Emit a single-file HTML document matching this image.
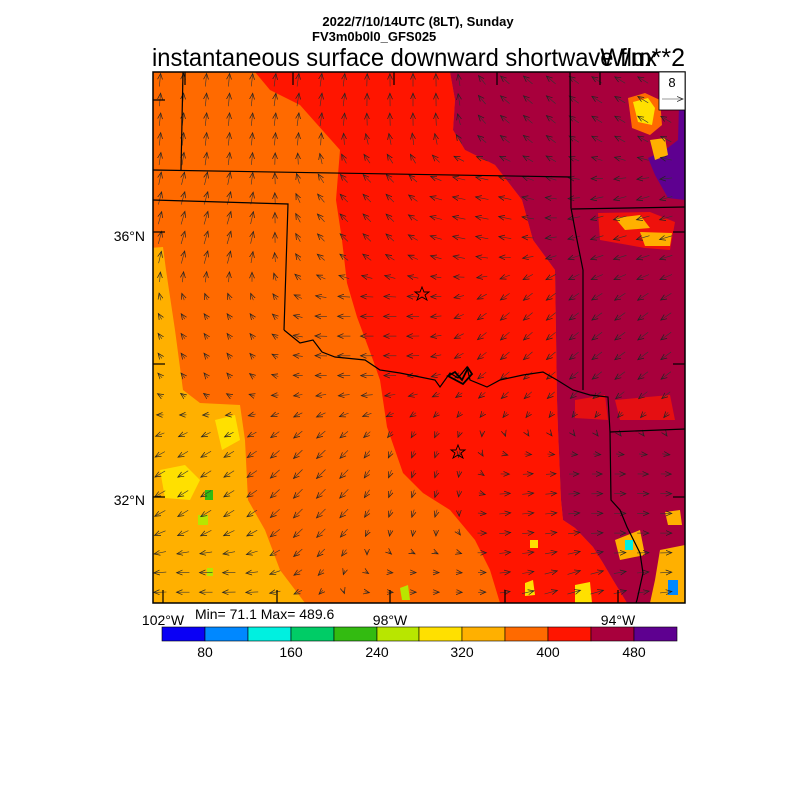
<!DOCTYPE html>
<html><head><meta charset="utf-8"><style>
html,body{margin:0;padding:0;background:#fff;}
body{width:800px;height:800px;overflow:hidden;font-family:"Liberation Sans",sans-serif;}
</style></head><body>
<svg id="s" width="800" height="800" xmlns="http://www.w3.org/2000/svg" font-family="Liberation Sans, sans-serif">
<rect width="800" height="800" fill="#fff"/>
<defs><clipPath id="c"><rect x="153" y="72" width="532" height="531"/></clipPath>
<marker id="ah" markerWidth="7" markerHeight="7" refX="6" refY="3.5" orient="auto" markerUnits="userSpaceOnUse"><path d="M0,1 L6,3.5 L0,6" fill="none" stroke="#222" stroke-width="0.7"/></marker></defs>
<g clip-path="url(#c)">
<rect x="153" y="72" width="532" height="531" fill="#ff6a00"/>
<path d="M150,248 L163,247 L166,270 L175,330 L183,390 L200,403 L240,405 L245,440 L248,500 L265,530 L280,570 L305,603 L150,603 Z" fill="#ffb000"/>
<path d="M160,470 L185,465 L200,480 L190,500 L165,498 Z" fill="#ffe000"/>
<path d="M215,420 L235,415 L240,440 L222,450 Z" fill="#ffe000"/>
<rect x="205" y="490" width="8" height="10" fill="#33bb11"/>
<rect x="198" y="515" width="10" height="10" fill="#b8e600"/>
<rect x="207" y="568" width="6" height="8" fill="#b8e600"/>
<path d="M255,72 L450,72 L455,100 L453,130 L465,150 L495,165 L522,200 L533,240 L555,270 L557,400 L558,430 L561,500 L563,520 L575,528 L593,547 L603,563 L613,580 L627,603 L500,603 L490,570 L475,540 L450,510 L423,493 L403,473 L387,427 L380,380 L373,360 L357,317 L347,283 L342,240 L336,200 L340,150 L300,105 L270,90 Z" fill="#ff1500"/>
<path d="M450,72 L685,72 L685,603 L627,603 L613,580 L603,563 L593,547 L575,528 L563,520 L561,500 L558,430 L557,400 L555,270 L533,240 L522,200 L495,165 L465,150 L453,130 L455,100 Z" fill="#a8003c"/>
<path d="M680,72 L685,72 L685,200 L668,198 L655,175 L648,158 L665,150 L678,140 Z" fill="#5e0090"/>
<path d="M628,98 L645,93 L660,100 L662,125 L650,135 L632,128 Z" fill="#ff6a00"/>
<path d="M633,102 L648,98 L655,108 L652,125 L638,122 Z" fill="#ffe000"/>
<path d="M650,140 L665,138 L668,155 L655,160 Z" fill="#ffb000"/>
<path d="M598,213 L650,212 L675,222 L670,250 L645,248 L600,240 Z" fill="#ff1500" opacity="0.8"/>
<path d="M615,218 L640,215 L650,228 L625,230 Z" fill="#ffb000"/>
<path d="M640,232 L672,233 L670,246 L645,246 Z" fill="#ffb000"/>
<path d="M575,400 L605,395 L608,420 L575,418 Z" fill="#ff1500" opacity="0.7"/>
<path d="M615,400 L670,395 L675,420 L620,420 Z" fill="#ff1500" opacity="0.7"/>
<path d="M615,540 L640,530 L645,555 L620,560 Z" fill="#ffb000"/>
<rect x="625" y="540" width="8" height="10" fill="#00f0e0"/>
<path d="M660,550 L685,545 L685,603 L650,603 L655,580 Z" fill="#ffb000"/>
<rect x="668" y="580" width="10" height="15" fill="#0088ff"/>
<path d="M665,512 L680,510 L682,525 L668,525 Z" fill="#ffb000"/>
<path d="M575,585 L590,582 L592,603 L575,603 Z" fill="#ffe000"/>
<path d="M525,583 L533,580 L535,595 L525,596 Z" fill="#ffe000"/>
<path d="M530,540 L538,540 L538,548 L530,548 Z" fill="#ffe000"/>
<path d="M400,588 L408,585 L410,600 L402,600 Z" fill="#b8e600"/>
</g>
<g id="arrows" fill="none" stroke="#333" stroke-width="0.6" marker-end="url(#ah)"></g>
<g fill="none" stroke="#000" stroke-width="1.2">
<polyline points="183,72 181,170"/>
<polyline points="153,170 571,177"/>
<polyline points="570,72 571,208 577,240 583,270 583,390"/>
<polyline points="572,209 685,207"/>
<polyline points="153,200 288,204 284,330"/>
<polyline points="284,330 300,343 313,340 322,352 335,357 365,360 380,370 400,373 420,377 435,380 440,387 450,373 458,378 467,367 470,380 487,387 500,380 523,375 543,372 557,380 573,390 590,395 608,397 610,432 611,500 620,510 627,527 640,553 643,573 637,600 636,603"/>
<polyline points="610,432 685,429"/>
<path d="M448,376 L455,372 L462,380 L468,368 L472,374 L463,384 Z" stroke-width="1.8"/>
<polygon points="422,287 424,292 429,292 425,295 427,300 422,297 417,300 419,295 415,292 420,292" stroke-width="0.9"/>
<polygon points="458,445 460,450 465,450 461,453 463,458 458,455 453,458 455,453 451,450 456,450" stroke-width="0.9"/>
</g>
<g stroke="#000" stroke-width="1.2">
<line x1="153" y1="100" x2="165" y2="100"/><line x1="153" y1="232" x2="165" y2="232"/><line x1="153" y1="364" x2="165" y2="364"/><line x1="153" y1="497" x2="165" y2="497"/>
<line x1="673" y1="100" x2="685" y2="100"/><line x1="673" y1="232" x2="685" y2="232"/><line x1="673" y1="364" x2="685" y2="364"/><line x1="673" y1="497" x2="685" y2="497"/>
<line x1="163" y1="603" x2="163" y2="590"/><line x1="277" y1="603" x2="277" y2="590"/><line x1="390" y1="603" x2="390" y2="590"/><line x1="505" y1="603" x2="505" y2="590"/><line x1="618" y1="603" x2="618" y2="590"/>
<line x1="185" y1="72" x2="185" y2="85"/><line x1="293" y1="72" x2="293" y2="85"/><line x1="394" y1="72" x2="394" y2="85"/><line x1="497" y1="72" x2="497" y2="85"/><line x1="600" y1="72" x2="600" y2="85"/>
</g>
<rect x="153" y="72" width="532" height="531" fill="none" stroke="#000" stroke-width="1.5"/>
<rect x="659" y="72" width="26" height="38" fill="#fff" stroke="#000" stroke-width="0.8"/>
<text x="672" y="87" font-size="13" text-anchor="middle">8</text>
<line x1="662" y1="99" x2="683" y2="99" stroke="#333" stroke-width="0.6" marker-end="url(#ah)"/>
<text x="418" y="26" font-size="13" font-weight="bold" text-anchor="middle">2022/7/10/14UTC (8LT), Sunday</text>
<text x="312" y="41" font-size="13" font-weight="bold">FV3m0b0l0_GFS025</text>
<text x="152" y="66" font-size="25" textLength="505" lengthAdjust="spacingAndGlyphs">instantaneous surface downward shortwave flux</text>
<text x="685" y="66" font-size="25" text-anchor="end">W/m**2</text>
<text x="145" y="241" font-size="14" text-anchor="end">36°N</text>
<text x="145" y="505" font-size="14" text-anchor="end">32°N</text>
<text x="163" y="625" font-size="14" text-anchor="middle">102°W</text>
<text x="390" y="625" font-size="14" text-anchor="middle">98°W</text>
<text x="618" y="625" font-size="14" text-anchor="middle">94°W</text>
<text x="195" y="619" font-size="14">Min= 71.1 Max= 489.6</text>
<g stroke="#000" stroke-width="0.6">
<rect x="162" y="627" width="43" height="14" fill="#0a00f5"/>
<rect x="205" y="627" width="43" height="14" fill="#0088ff"/>
<rect x="248" y="627" width="43" height="14" fill="#00f0e0"/>
<rect x="291" y="627" width="43" height="14" fill="#00cc66"/>
<rect x="334" y="627" width="43" height="14" fill="#33bb11"/>
<rect x="377" y="627" width="42" height="14" fill="#b8e600"/>
<rect x="419" y="627" width="43" height="14" fill="#ffe000"/>
<rect x="462" y="627" width="43" height="14" fill="#ffb000"/>
<rect x="505" y="627" width="43" height="14" fill="#ff6a00"/>
<rect x="548" y="627" width="43" height="14" fill="#ff1500"/>
<rect x="591" y="627" width="43" height="14" fill="#a8003c"/>
<rect x="634" y="627" width="43" height="14" fill="#5e0090"/>
</g>
<g font-size="14" text-anchor="middle">
<text x="205" y="657">80</text><text x="291" y="657">160</text><text x="377" y="657">240</text><text x="462" y="657">320</text><text x="548" y="657">400</text><text x="634" y="657">480</text>
</g>
</svg>
<script>
var A=[[0.1,0.05,0.1,-1],[0.3,0.05,0.15,-1],[0.5,0.05,0,-1],[0.7,0.05,-0.7,-0.6],[0.9,0.05,-0.8,-0.5],
[0.1,0.3,0.3,-1],[0.4,0.25,-0.6,-0.6],[0.6,0.25,-1,-0.2],[0.9,0.3,-1,0.3],
[0.1,0.5,-0.3,-0.4],[0.4,0.5,-1,0],[0.7,0.5,-0.7,0.6],[0.9,0.5,-0.8,0.6],
[0.1,0.8,-0.8,0.5],[0.3,0.8,-0.7,0.7],[0.5,0.8,-0.2,0.6],[0.7,0.85,0.9,-0.1],[0.9,0.85,0.9,0],
[0.1,0.98,-1,0],[0.5,0.98,0.5,0],[0.8,0.98,1,-0.3]];
var g=document.getElementById('arrows'),h='';
for(var y=80;y<600;y+=19.7){for(var x=160;x<682;x+=23){
 var u=(x-153)/532,v=(y-72)/531,sx=0,sy=0,sw=0;
 for(var i=0;i<A.length;i++){var d=(u-A[i][0])*(u-A[i][0])+(v-A[i][1])*(v-A[i][1])+0.002;var w=1/(d*d);sx+=w*A[i][2];sy+=w*A[i][3];sw+=w;}
 sx/=sw;sy/=sw;var L=13;
 var x1=x-sx*L/2,y1=y-sy*L/2,x2=x+sx*L/2,y2=y+sy*L/2;
 h+='<line x1="'+x1.toFixed(1)+'" y1="'+y1.toFixed(1)+'" x2="'+x2.toFixed(1)+'" y2="'+y2.toFixed(1)+'"/>';
}}
g.innerHTML=h;
</script>
</body></html>
